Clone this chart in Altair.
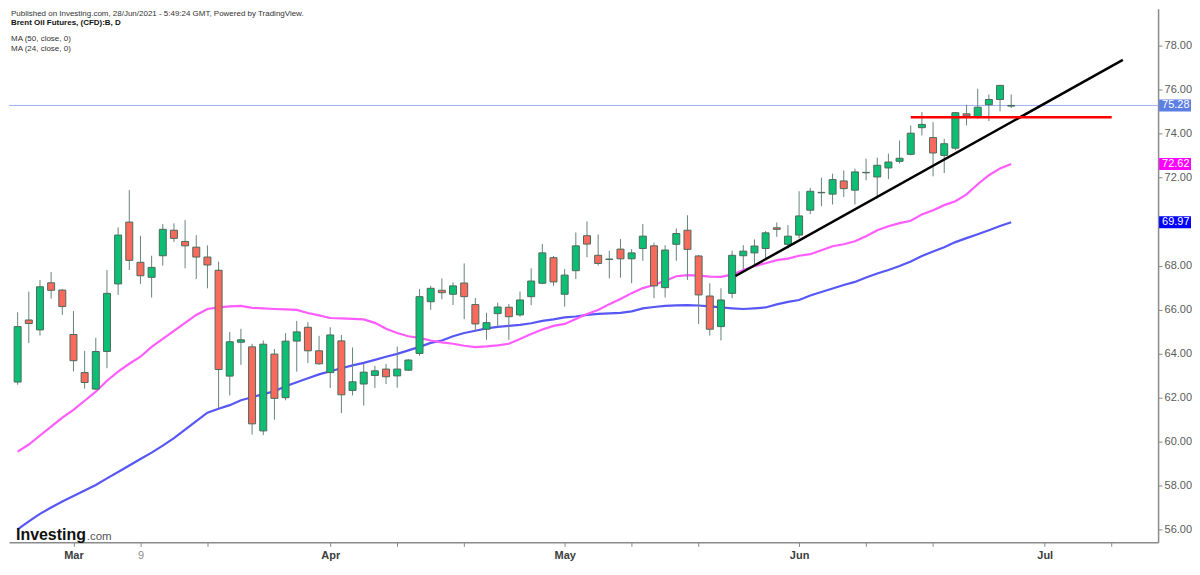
import altair as alt
import pandas as pd

# ---------------- data ----------------
opens = [62.71, 65.53, 65.08, 67.22, 66.89, 64.87, 63.14, 62.39, 64.10, 67.17,
         69.98, 68.15, 67.47, 68.45, 69.61, 69.10, 68.84, 68.39, 67.79, 62.98,
         64.52, 64.31, 60.49, 63.98, 62.00, 64.57, 65.20, 64.13, 63.14, 64.58,
         62.33, 62.62, 63.01, 63.30, 62.99, 63.25, 64.01, 66.36, 66.88, 66.70,
         67.21, 66.23, 65.11, 65.82, 66.11, 65.76, 66.59, 67.20, 68.36, 66.70,
         67.77, 69.36, 68.47, 68.28, 68.75, 68.31, 68.78, 68.90, 67.00, 68.97,
         69.61, 68.44, 66.62, 65.23, 66.74, 68.45, 68.58, 68.78, 69.72, 68.97,
         69.39, 70.52, 71.33, 71.25, 71.85, 71.43, 72.22, 72.03, 72.44, 72.74,
         73.06, 74.27, 73.82, 73.01, 73.34, 74.90, 74.75, 75.31, 75.55, 75.25]
highs = [65.88, 66.82, 67.35, 67.71, 66.94, 65.94, 64.13, 64.72, 67.80, 69.74,
         71.43, 69.36, 68.45, 69.89, 69.92, 70.07, 69.39, 68.92, 68.18, 64.99,
         65.13, 64.45, 64.60, 64.21, 64.93, 65.49, 65.43, 64.81, 65.20, 64.85,
         64.28, 63.54, 63.45, 63.53, 64.32, 63.75, 66.94, 67.08, 67.42, 67.24,
         68.10, 66.53, 65.86, 66.32, 66.26, 66.82, 67.88, 68.98, 68.44, 67.85,
         69.51, 70.01, 69.42, 68.68, 69.21, 68.75, 69.89, 69.04, 68.93, 69.69,
         70.29, 68.48, 67.20, 66.97, 68.68, 68.93, 69.19, 69.57, 69.96, 69.84,
         71.38, 71.53, 72.00, 72.18, 72.33, 72.41, 72.86, 72.91, 73.09, 73.69,
         74.37, 74.98, 74.52, 73.77, 74.98, 75.31, 76.04, 75.78, 76.22, 75.78]
lows = [62.59, 64.48, 64.82, 66.50, 65.76, 63.19, 62.41, 62.35, 63.34, 66.67,
        67.80, 67.17, 66.55, 68.00, 69.08, 67.88, 67.39, 66.97, 61.53, 62.10,
        63.49, 60.32, 60.30, 61.00, 61.88, 63.18, 63.57, 63.50, 62.44, 61.30,
        62.10, 61.64, 62.44, 62.62, 62.45, 63.21, 63.90, 65.99, 66.47, 66.21,
        65.57, 65.00, 64.63, 65.20, 64.63, 65.68, 66.20, 67.15, 67.08, 66.14,
        67.39, 68.38, 68.00, 67.42, 67.45, 67.20, 68.22, 66.52, 66.55, 68.22,
        67.35, 65.35, 64.82, 64.60, 66.52, 67.85, 68.07, 68.25, 69.31, 68.78,
        69.24, 70.34, 70.70, 70.78, 71.12, 70.78, 71.88, 71.05, 71.93, 72.64,
        73.01, 73.92, 72.06, 72.21, 73.24, 74.37, 74.68, 74.57, 75.01, 75.16]
closes = [65.23, 65.37, 67.04, 66.88, 66.14, 63.68, 62.69, 64.10, 66.74, 69.39,
          68.24, 67.54, 67.92, 69.65, 69.24, 68.90, 68.39, 68.03, 63.28, 64.54,
          64.63, 60.81, 64.43, 61.97, 64.57, 64.99, 64.13, 63.54, 64.85, 62.13,
          62.72, 63.16, 63.22, 62.95, 63.30, 63.71, 66.59, 66.97, 66.77, 67.08,
          66.59, 65.35, 65.41, 66.12, 65.68, 66.44, 67.30, 68.58, 67.26, 67.57,
          68.90, 68.98, 68.10, 68.30, 68.31, 68.58, 69.34, 67.08, 68.71, 69.46,
          68.74, 66.67, 65.11, 66.44, 68.47, 68.66, 68.89, 69.49, 69.65, 69.34,
          70.26, 71.38, 71.31, 71.91, 71.50, 72.26, 72.24, 72.56, 72.71, 72.88,
          74.02, 74.42, 73.12, 73.54, 74.95, 74.81, 75.20, 75.55, 76.19, 75.28]
ma50 = [56.01, 56.38, 56.72, 57.01, 57.28, 57.53, 57.78, 58.03, 58.33, 58.62,
        58.92, 59.21, 59.50, 59.82, 60.16, 60.55, 60.93, 61.32, 61.50, 61.66,
        61.88, 62.02, 62.16, 62.29, 62.52, 62.70, 62.88, 63.06, 63.20, 63.34,
        63.47, 63.58, 63.72, 63.86, 63.99, 64.15, 64.31, 64.49, 64.60, 64.79,
        64.94, 65.04, 65.15, 65.22, 65.26, 65.31, 65.38, 65.49, 65.56, 65.65,
        65.69, 65.76, 65.81, 65.83, 65.85, 65.92, 66.06, 66.12, 66.17, 66.19,
        66.21, 66.19, 66.15, 66.10, 66.06, 66.03, 66.06, 66.10, 66.24, 66.35,
        66.44, 66.64, 66.80, 66.96, 67.12, 67.26, 67.46, 67.64, 67.80, 67.98,
        68.19, 68.44, 68.64, 68.84, 69.07, 69.25, 69.43, 69.61, 69.80, 69.97]
ma24 = [59.55, 59.87, 60.28, 60.68, 61.09, 61.45, 61.86, 62.27, 62.77, 63.18,
        63.54, 63.86, 64.31, 64.67, 65.04, 65.40, 65.76, 66.03, 66.10, 66.15,
        66.17, 66.08, 66.06, 66.03, 66.01, 65.99, 65.85, 65.74, 65.62, 65.60,
        65.58, 65.56, 65.40, 65.13, 64.94, 64.79, 64.72, 64.60, 64.51, 64.45,
        64.36, 64.30, 64.33, 64.38, 64.45, 64.67, 64.89, 65.10, 65.26, 65.35,
        65.58, 65.80, 65.98, 66.25, 66.48, 66.75, 66.98, 67.12, 67.31, 67.52,
        67.57, 67.55, 67.50, 67.49, 67.59, 67.80, 67.98, 68.11, 68.25, 68.32,
        68.45, 68.52, 68.70, 68.88, 68.97, 69.11, 69.34, 69.61, 69.79, 69.93,
        70.04, 70.33, 70.52, 70.75, 70.93, 71.24, 71.70, 72.11, 72.42, 72.62]

tick_idx = [6, 12, 18, 29, 35, 41, 50, 56, 62, 71, 77, 83, 93, 99]
tick_text = ["Mar", "9", "", "Apr", "", "", "May", "", "", "Jun", "", "", "Jul", ""]
y_ticks = [56, 58, 60, 62, 64, 66, 68, 72, 74, 76, 78]

trend_idx = [65.3, 100.0]
trend_val = [67.53, 77.35]
level_idx = [81.0, 99.0]
level_val = [74.74, 74.74]

last_vals = [75.28, 72.62, 69.97]
last_text = ["75.28", "72.62", "69.97"]
last_cols = ["#5b7fe4", "#ff00ff", "#0000ff"]

header = "Published on Investing.com, 28/Jun/2021 - 5:49:24 GMT, Powered by TradingView."
title_txt = "Brent Oil Futures, (CFD):B, D"
ma_labels = ["MA (50, close, 0)", "MA (24, close, 0)"]

# ---------------- layout ----------------
W, H = 1152, 535
FONT = "Liberation Sans"
GREEN, RED = "#0cbf74", "#f96a5d"
EDGE, WICK = "#4a6a5b", "#66847a"

n = len(closes)
df = pd.DataFrame({"idx": list(range(1, n + 1)), "open": opens, "high": highs,
                   "low": lows, "close": closes, "ma50": ma50, "ma24": ma24})

xs = alt.Scale(domain=[0.672, 102.71], nice=False, zero=False)
ys = alt.Scale(domain=[55.425, 79.677], nice=False, zero=False)

label_expr = " : ".join(f"datum.value == {i} ? '{t}'" for i, t in zip(tick_idx, tick_text)) + " : ''"
xax = alt.Axis(values=tick_idx, labelExpr=label_expr, title=None, grid=False,
               tickSize=4, tickColor="#8a8a8a", domainColor="#8a8a8a", domainWidth=1.5,
               labelFont=FONT, labelFontSize=11, labelPadding=3, labelFlush=False,
               labelColor={"condition": {"test": "datum.value == 12", "value": "#8f8f8f"}, "value": "#3c3c3c"},
               labelFontWeight={"condition": {"test": "datum.value == 12", "value": "normal"}, "value": "bold"})
yax = alt.Axis(orient="right", values=y_ticks, format=".2f", title=None, grid=False,
               tickSize=4, tickColor="#8a8a8a", domainColor="#8a8a8a", domainWidth=1.5,
               labelFont=FONT, labelFontSize=11, labelColor="#5a5a5a", labelPadding=2)

X = alt.X("idx:Q", scale=xs, axis=xax)
base = alt.Chart(df)

last_rule = alt.Chart(pd.DataFrame({"v": [last_vals[0]]})).mark_rule(
    color="#9fb3f3", strokeWidth=1).encode(
    y=alt.Y("v:Q", scale=ys, axis=yax))

ma50_line = base.mark_line(color="#5757f5", strokeWidth=2.2).encode(
    x=X, y=alt.Y("ma50:Q", scale=ys, axis=yax))
ma24_line = base.mark_line(color="#ff5cff", strokeWidth=2.2).encode(
    x=X, y=alt.Y("ma24:Q", scale=ys, axis=yax))

wicks = base.mark_rule(color=WICK, strokeWidth=1).encode(
    x=X, y=alt.Y("low:Q", scale=ys, axis=yax), y2="high:Q")
bodies = base.mark_bar(size=7, stroke=EDGE, strokeWidth=1).encode(
    x=X, y=alt.Y("open:Q", scale=ys, axis=yax), y2="close:Q",
    color=alt.condition("datum.close >= datum.open", alt.value(GREEN), alt.value(RED)))

trend = alt.Chart(pd.DataFrame({"i": trend_idx, "v": trend_val})).mark_line(
    color="#000000", strokeWidth=2.5).encode(
    x=alt.X("i:Q", scale=xs, axis=xax), y=alt.Y("v:Q", scale=ys, axis=yax))
level = alt.Chart(pd.DataFrame({"i": level_idx, "v": level_val})).mark_line(
    color="#ff0000", strokeWidth=2.5).encode(
    x=alt.X("i:Q", scale=xs, axis=xax), y=alt.Y("v:Q", scale=ys, axis=yax))

boxes_df = pd.DataFrame({"v": last_vals, "t": last_text, "c": last_cols})
boxes = alt.Chart(boxes_df).transform_calculate(
    lo="datum.v - 0.27", hi="datum.v + 0.27").mark_rect().encode(
    x=alt.value(W + 1), x2=alt.value(W + 33),
    y=alt.Y("lo:Q", scale=ys, axis=yax), y2="hi:Q",
    color=alt.Color("c:N", scale=None))
box_text = alt.Chart(boxes_df).mark_text(
    align="left", baseline="middle", font=FONT, fontSize=11, color="white").encode(
    x=alt.value(W + 4), y=alt.Y("v:Q", scale=ys, axis=yax), text="t:N")

def label(txt, x, y, size=8, weight="normal", color="#333333", baseline="top"):
    return alt.Chart(pd.DataFrame({"t": [txt]})).mark_text(
        align="left", baseline=baseline, font=FONT, fontSize=size,
        fontWeight=weight, color=color).encode(
        x=alt.value(x), y=alt.value(y), text="t:N")

texts = [
    label(header, 2, 1),
    label(title_txt, 2, 10, weight="bold", color="#111111"),
    label(ma_labels[0], 2, 26),
    label(ma_labels[1], 2, 36),
    label("Investing", 7, 533, size=16, weight="bold", color="#111111", baseline="alphabetic"),
    label(".com", 78, 533, size=11.5, color="#555555", baseline="alphabetic"),
]

chart = alt.layer(last_rule, ma50_line, ma24_line, wicks, bodies, trend, level,
                  boxes, box_text, *texts).properties(
    width=W, height=H, padding=0, background="white"
).configure_view(stroke=None)

chart.save("out.html", embed_options={"renderer": "svg", "actions": False})
